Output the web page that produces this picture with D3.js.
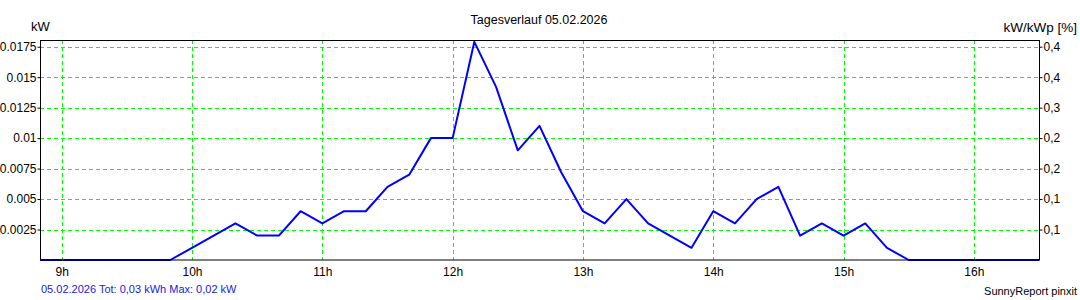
<!DOCTYPE html>
<html><head><meta charset="utf-8">
<script src="https://cdn.jsdelivr.net/npm/d3@7"></script>
<style>
html,body{margin:0;padding:0;background:#fff;}
svg{display:block;font-family:"Liberation Sans",Arial,sans-serif;}
</style></head>
<body><svg id="c" width="1080" height="300"></svg>
<script>
const title = "Tagesverlauf 05.02.2026";
const times = ["08:50","09:00","09:10","09:20","09:30","09:40","09:50","10:00","10:10","10:20","10:30","10:40","10:50","11:00","11:10","11:20","11:30","11:40","11:50","12:00","12:10","12:20","12:30","12:40","12:50","13:00","13:10","13:20","13:30","13:40","13:50","14:00","14:10","14:20","14:30","14:40","14:50","15:00","15:10","15:20","15:30","15:40","15:50","16:00","16:10","16:20","16:30"];
const power = [0,0,0,0,0,0,0,0.001,0.002,0.003,0.002,0.002,0.004,0.003,0.004,0.004,0.006,0.007,0.01,0.01,0.0179,0.0142,0.009,0.011,0.0072,0.004,0.003,0.005,0.003,0.002,0.001,0.004,0.003,0.005,0.006,0.002,0.003,0.002,0.003,0.001,0,0,0,0,0,0,0];
const yTicks = [0.0025,0.005,0.0075,0.01,0.0125,0.015,0.0175];
const yTickLabels = ["0.0025","0.005","0.0075","0.01","0.0125","0.015","0.0175"];
const rightTickLabels = ["0,1","0,1","0,2","0,2","0,3","0,4","0,4"];
const xTickHours = [9,10,11,12,13,14,15,16];
const xTickLabels = ["9h","10h","11h","12h","13h","14h","15h","16h"];
const yMax = 0.01805;
const footerLeft = "05.02.2026 Tot: 0,03 kWh Max: 0,02 kW";
const footerRight = "SunnyReport pinxit";

const toH = t => { const [h,m] = t.split(":").map(Number); return h + m/60; };
const svg = d3.select("#c");
const L = 40, R = 1039, T = 40, B = 260;
const x = d3.scaleLinear().domain([toH("08:50"), toH("16:30")]).range([L, R]);
const y = d3.scaleLinear().domain([0, yMax]).range([B, T]);

// grid
const g = svg.append("g");
g.selectAll("line.h").data(yTicks).enter().append("line")
  .attr("x1", L).attr("x2", R)
  .attr("y1", d => Math.round(y(d)) + 0.5).attr("y2", d => Math.round(y(d)) + 0.5)
  .attr("stroke", "#00ff00").attr("stroke-dasharray", "4,3").attr("stroke-width", 1);
g.selectAll("line.v").data(xTickHours).enter().append("line")
  .attr("y1", T).attr("y2", B)
  .attr("x1", d => Math.round(x(d)) + 0.5).attr("x2", d => Math.round(x(d)) + 0.5)
  .attr("stroke", "#00ff00").attr("stroke-dasharray", "4,3").attr("stroke-width", 1);

// line
const data = times.map((t, i) => [toH(t), power[i]]);
svg.append("path").datum(data)
  .attr("fill", "none").attr("stroke", "#0000ff").attr("stroke-width", 2)
  .attr("stroke-linejoin", "round")
  .attr("d", d3.line().x(d => x(d[0])).y(d => y(d[1])));

// frame
svg.append("rect").attr("x", L + 0.5).attr("y", T + 0.5).attr("width", R - L).attr("height", B - T - 0.5)
  .attr("fill", "none").attr("stroke", "#000").attr("stroke-width", 1);

// left axis
const la = svg.append("g").attr("transform", `translate(${L + 0.5},0)`)
  .call(d3.axisLeft(y).tickValues(yTicks).tickSize(3).tickFormat((d, i) => yTickLabels[i]));
la.select(".domain").remove();
la.selectAll("text").attr("font-size", 12).attr("fill", "#000").attr("font-family", "Liberation Sans, Arial, sans-serif").attr("x", -4);

// right axis
const ra = svg.append("g").attr("transform", `translate(${R + 0.5},0)`)
  .call(d3.axisRight(y).tickValues(yTicks).tickSize(3).tickFormat((d, i) => rightTickLabels[i]));
ra.select(".domain").remove();
ra.selectAll("text").attr("font-size", 12).attr("fill", "#000").attr("font-family", "Liberation Sans, Arial, sans-serif").attr("x", 4);

// bottom axis
const ba = svg.append("g").attr("transform", `translate(0,${B})`)
  .call(d3.axisBottom(x).tickValues(xTickHours).tickSize(0).tickFormat((d, i) => xTickLabels[i]));
ba.select(".domain").remove();
ba.selectAll("text").attr("font-size", 12).attr("fill", "#000").attr("font-family", "Liberation Sans, Arial, sans-serif").attr("dy", "0.71em").attr("y", 7);

// texts
svg.append("text").attr("x", 539).attr("y", 24).attr("text-anchor", "middle").attr("font-size", 12.5).text(title);
svg.append("text").attr("x", 31).attr("y", 31).attr("font-size", 13).text("kW");
svg.append("text").attr("x", 1077).attr("y", 32).attr("text-anchor", "end").attr("font-size", 13.5).text("kW/kWp [%]");
svg.append("text").attr("x", 41).attr("y", 293).attr("font-size", 11).attr("fill", "#2020e0").text(footerLeft);
svg.append("text").attr("x", 1077).attr("y", 295).attr("text-anchor", "end").attr("font-size", 11).attr("fill", "#000").text(footerRight);
</script></body></html>
